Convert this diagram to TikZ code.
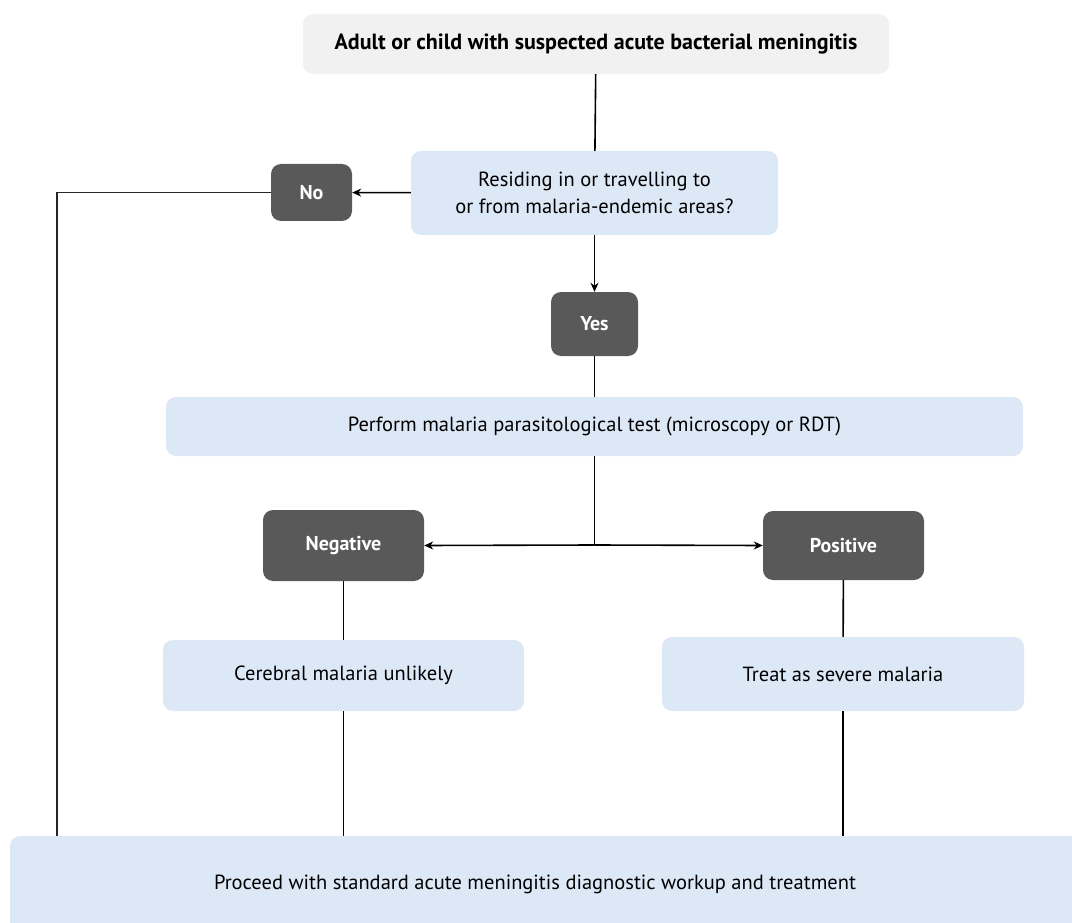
\documentclass[tikz,border=0pt]{standalone}
\usepackage{fontspec}
\setmainfont{PT Sans}
\usetikzlibrary{arrows.meta}
\definecolor{paleblue}{HTML}{DDE8F6}
\definecolor{palegray}{HTML}{F1F1F1}
\definecolor{darkbox}{HTML}{595959}
\begin{document}
\begin{tikzpicture}[x=1pt,y=-1pt,
  box/.style={rounded corners=10pt, inner sep=0pt, align=center,
    font=\fontsize{20.5}{27}\selectfont},
  info/.style={box, fill=paleblue},
  answer/.style={box, fill=darkbox, text=white,
    font=\bfseries\fontsize{20}{24}\selectfont},
  link/.style={line width=1.6pt},
  arrow/.style={link, -{Stealth[length=9pt,width=8pt]}}]
\useasboundingbox (0,0) rectangle (1072,923);
\clip (0,0) rectangle (1072,923);

% boxes
\node[box, fill=palegray, font=\bfseries\fontsize{22}{26}\selectfont,
  minimum width=586pt, minimum height=60pt] (start) at (596,44)
  {Adult or child with suspected acute bacterial meningitis};
\node[info, minimum width=367pt, minimum height=84pt] (q) at (594.5,193)
  {Residing in or travelling to\\or from malaria-endemic areas?};
\node[answer, minimum width=81pt, minimum height=57pt] (no) at (311.5,192.5) {No};
\node[answer, minimum width=87pt, minimum height=64pt] (yes) at (594.5,324) {Yes};
\node[info, minimum width=857pt, minimum height=59pt] (test) at (594.5,426.5)
  {Perform malaria parasitological test (microscopy or RDT)};
\node[answer, minimum width=161pt, minimum height=71pt] (neg) at (343.5,545.5) {Negative};
\node[answer, minimum width=161pt, minimum height=69pt] (pos) at (843.5,545.5) {Positive};
\node[info, minimum width=361pt, minimum height=71pt] (cereb) at (343.5,675.5)
  {Cerebral malaria unlikely};
\node[info, minimum width=362pt, minimum height=74pt] (treat) at (843,674)
  {Treat as severe malaria};
\fill[paleblue, rounded corners=10pt] (10,836) rectangle (1110,960);
\node[box, minimum width=1050pt, minimum height=96pt] (final) at (535,884)
  {Proceed with standard acute meningitis diagnostic workup and treatment};

% connectors
\coordinate (split) at (594.5,545);
\coordinate (turn) at (57,192.5);
\draw[link] (start) -- (q);
\draw[arrow] (q) -- (no);
\draw[arrow] (q) -- (yes);
\draw[link] (yes) -- (test);
\draw[link] (test) -- (split);
\draw[arrow] (split) -- (neg.east);
\draw[arrow] (split) -- (pos.west);
\draw[link] (neg) -- (cereb);
\draw[link] (pos) -- (treat);
\draw[link] (cereb) -- (cereb |- final.north);
\draw[link] (treat) -- (treat |- final.north);
\draw[link, line width=1.2pt, draw=black!85] (no.west) -- (turn) -- (turn |- final.north);
\end{tikzpicture}
\end{document}
